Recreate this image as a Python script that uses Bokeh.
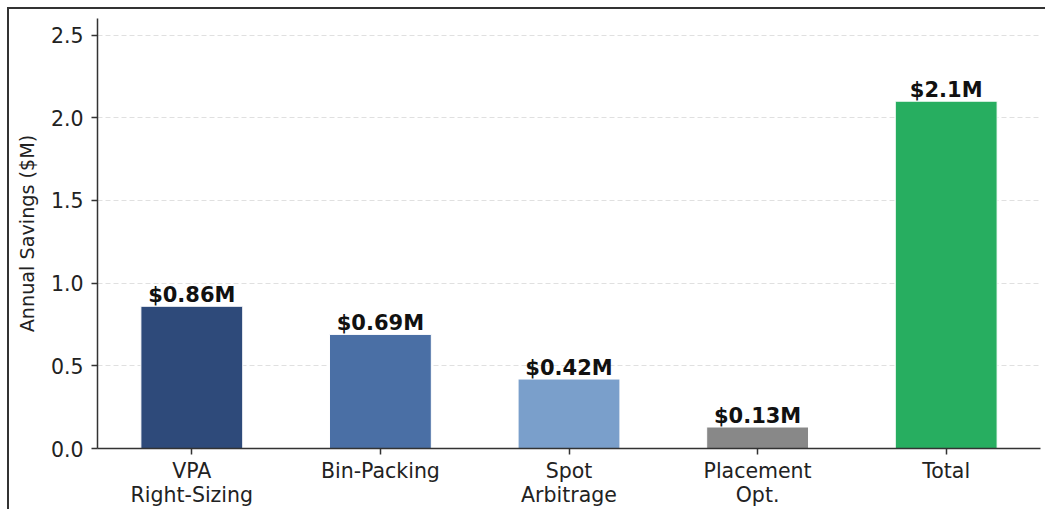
from bokeh.plotting import figure
from bokeh.models import ColumnDataSource, FactorRange, Range1d, FixedTicker, NumeralTickFormatter
from bokeh.embed import file_html
from bokeh.resources import INLINE
from bokeh.core.properties import value

categories = ["VPA\nRight-Sizing", "Bin-Packing", "Spot\nArbitrage", "Placement\nOpt.", "Total"]
savings = [0.86, 0.69, 0.42, 0.13, 2.1]
labels = ["$0.86M", "$0.69M", "$0.42M", "$0.13M", "$2.1M"]
colors = ["#2E4A7A", "#4A6FA5", "#7A9FCB", "#888888", "#27AE60"]
y_ticks = [0.0, 0.5, 1.0, 1.5, 2.0, 2.5]

src = ColumnDataSource(dict(x=categories, top=savings, label=labels, color=colors))

FONT = "DejaVu Sans"

p = figure(x_range=FactorRange(*categories, range_padding=0), y_range=Range1d(0, 2.6),
           frame_width=943, frame_height=430, output_backend="svg", toolbar_location=None,
           min_border_left=88, min_border_right=5, min_border_top=9, min_border_bottom=52,
           margin=(7, 0, 0, 7))
p.styles = {"border-top": "2px solid #333", "border-left": "2px solid #333"}
p.outline_line_color = None

p.vbar(x="x", top="top", width=0.54, source=src, fill_color="color",
       line_color="white", line_width=1)
p.text(x="x", y="top", text="label", source=src, text_align="center",
       text_baseline="bottom", y_offset=1, text_font=value(FONT),
       text_font_size="21px", text_font_style="bold", text_color="#111111")

p.xgrid.grid_line_color = None
p.ygrid.ticker = FixedTicker(ticks=y_ticks)
p.ygrid.grid_line_color = "#e0e0e0"
p.ygrid.grid_line_dash = "5 3"
p.ygrid.grid_line_width = 1

p.yaxis.ticker = FixedTicker(ticks=y_ticks)
p.yaxis.formatter = NumeralTickFormatter(format="0.0")
p.yaxis.axis_label = "Annual Savings ($M)"
p.yaxis.axis_label_text_font = FONT
p.yaxis.axis_label_text_font_size = "19.2px"
p.yaxis.axis_label_text_font_style = "normal"
p.yaxis.axis_label_text_color = "#222222"
p.yaxis.axis_label_standoff = 9

for ax in (p.xaxis, p.yaxis):
    ax.major_label_text_font = FONT
    ax.major_label_text_font_size = "20.5px"
    ax.major_label_text_color = "#222222"
    ax.axis_line_color = "#333333"
    ax.axis_line_width = 1.5
    ax.major_tick_line_color = "#333333"
    ax.major_tick_line_width = 1.5
    ax.major_tick_out = 6
    ax.major_tick_in = 0
    ax.minor_tick_line_color = None

p.yaxis.major_label_standoff = 8
p.xaxis.major_label_standoff = 4
p.xaxis.major_label_text_line_height = 1.0

p.background_fill_color = "white"
p.border_fill_color = "white"

open("out.html", "w").write(file_html(p, INLINE))
